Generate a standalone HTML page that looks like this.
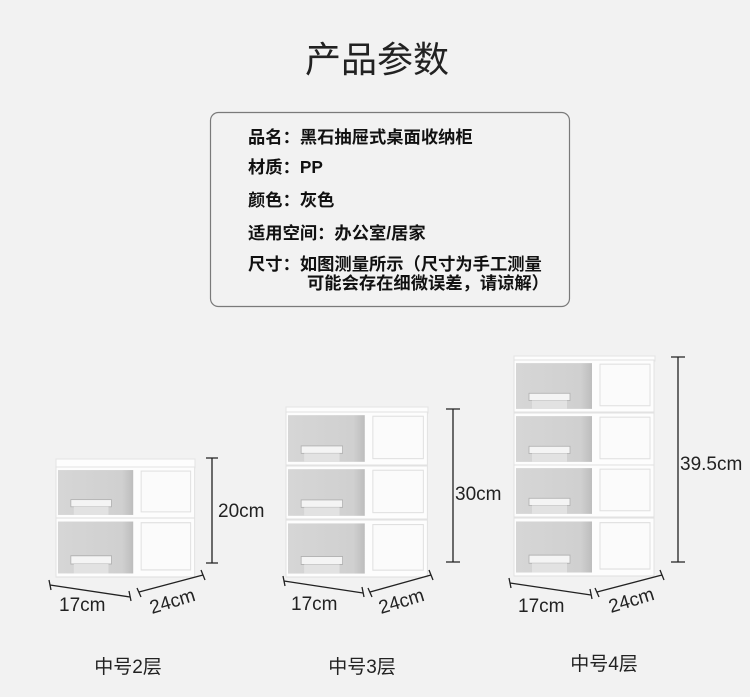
<!DOCTYPE html>
<html><head><meta charset="utf-8"><style>
html,body{margin:0;padding:0;background:#f2f2f2;}
svg{display:block}
text{font-family:"Liberation Sans","Noto Sans CJK SC",sans-serif;}
</style></head><body>
<svg width="750" height="697" viewBox="0 0 750 697" xmlns="http://www.w3.org/2000/svg">
<defs>
<linearGradient id="g" x1="0" y1="0" x2="1" y2="0"><stop offset="0" stop-color="#d6d6d6"/><stop offset="0.85" stop-color="#d0d0d0"/><stop offset="1" stop-color="#bdbdbd"/></linearGradient>
<g id="d50">
 <rect x="0" y="0" width="140" height="50" fill="#fdfdfd" stroke="#e2e2e2"/>
 <rect x="2" y="3" width="76" height="44" fill="url(#g)"/>
 <rect x="86" y="4" width="50" height="40" fill="#fbfbfb" stroke="#e0e0e0"/>
 <rect x="15" y="32" width="41" height="7" fill="#f4f4f4" stroke="#b0b0b0" stroke-width="0.8"/>
 <rect x="18" y="39" width="35" height="8" fill="#e2e2e2"/>
</g>
</defs>
<text x="377" y="72" font-size="36" text-anchor="middle" fill="#222">产品参数</text>
<rect x="210.5" y="112.5" width="359" height="194" rx="8" fill="#f2f2f2" stroke="#7a7a7a" stroke-width="1.2"/>
<g font-size="17.3" fill="#111" font-weight="bold">
<text x="248" y="143">品名：黑石抽屉式桌面收纳柜</text>
<text x="248" y="173">材质：PP</text>
<text x="248" y="206">颜色：灰色</text>
<text x="248" y="239">适用空间：办公室/居家</text>
<text x="248" y="270">尺寸：如图测量所示（尺寸为手工测量</text>
<text x="307" y="289">可能会存在细微误差，请谅解）</text>
</g>

<rect x="56" y="459" width="139" height="9" fill="#fdfdfd" stroke="#e4e4e4"/>
<use href="#d50" transform="translate(56,467) scale(0.99,1.02)"/>
<use href="#d50" transform="translate(56,518) scale(0.99,1.18)"/>
<rect x="286" y="407" width="142" height="6" fill="#fdfdfd" stroke="#e4e4e4"/>
<use href="#d50" transform="translate(286,412) scale(1.01,1.06)"/>
<use href="#d50" transform="translate(286,466) scale(1.01,1.06)"/>
<use href="#d50" transform="translate(286,520) scale(1.01,1.14)"/>
<rect x="514" y="356" width="141" height="5" fill="#fdfdfd" stroke="#e4e4e4"/>
<use href="#d50" transform="translate(514,360) scale(1.0,1.04)"/>
<use href="#d50" transform="translate(514,413) scale(1.0,1.04)"/>
<use href="#d50" transform="translate(514,465) scale(1.0,1.04)"/>
<use href="#d50" transform="translate(514,518) scale(1.0,1.16)"/>

<g stroke="#222" stroke-width="1.3" fill="none">
<path d="M206 458H218M212 458V563M206 563H218"/>
<path d="M446 409H460M453 409V562M446 562H460"/>
<path d="M671 357H685M678 357V562M671 562H685"/>
<path d="M50 585L130 597M49 580L51 590M129 591L131 601"/>
<path d="M139 592L203 575M137 588L141 597M201 570L205 580"/>
<path d="M284 581L363 593M283 576L285 586M362 587L364 597"/>
<path d="M370 592L431 575M368 588L372 597M429 570L433 580"/>
<path d="M510 583L591 595M509 578L511 588M590 589L592 599"/>
<path d="M597 592L662 575M595 588L599 597M660 570L664 580"/>
</g>
<g font-size="19" fill="#222">
<text x="218" y="517">20cm</text>
<text x="455" y="500">30cm</text>
<text x="680" y="470">39.5cm</text>
<text x="59" y="611">17cm</text>
<text x="291" y="610">17cm</text>
<text x="518" y="612">17cm</text>
<text transform="translate(152,614) rotate(-17)">24cm</text>
<text transform="translate(381,614) rotate(-17)">24cm</text>
<text transform="translate(611,613) rotate(-17)">24cm</text>
<text x="128" y="673" text-anchor="middle">中号2层</text>
<text x="362" y="673" text-anchor="middle">中号3层</text>
<text x="604" y="670" text-anchor="middle">中号4层</text>
</g>
</svg>
</body></html>
